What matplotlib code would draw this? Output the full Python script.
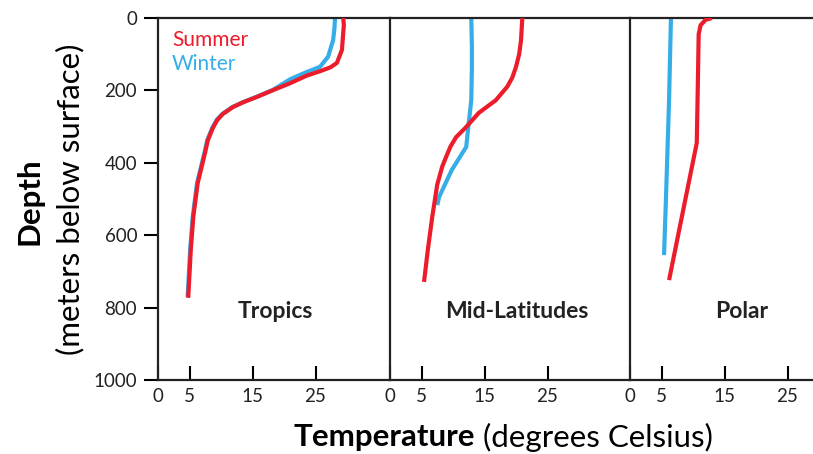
import matplotlib.pyplot as plt

# Temperature profiles (deg C) vs depth (m)
trop_summer_t = [29.4, 29.5, 29.4, 29.2, 28.4, 27.4, 26.2, 23.5, 21.0, 18.3, 15.7, 13.5, 11.9, 10.3, 9.4, 8.7, 7.9, 7.5, 6.3, 5.6, 5.2, 4.8]
trop_summer_d = [0, 20, 41, 88, 124, 136, 144, 160, 180, 199, 218, 233, 246, 265, 282, 304, 338, 370, 456, 550, 641, 773]
trop_winter_t = [28.1, 28.0, 27.8, 27.0, 25.7, 23.5, 21.0, 18.2, 15.6, 13.4, 11.8, 10.2, 9.3, 8.6, 7.8, 7.4, 6.2, 5.5, 5.1, 4.7]
trop_winter_d = [0, 30, 61, 107, 135, 150, 169, 199, 218, 233, 246, 265, 282, 304, 338, 370, 456, 550, 641, 770]

mid_summer_t = [21.0, 20.8, 20.5, 20.0, 19.4, 18.6, 16.8, 14.1, 12.1, 10.5, 9.6, 8.9, 8.3, 7.5, 6.7, 6.0, 5.4]
mid_summer_d = [0, 61, 100, 135, 165, 190, 227, 262, 301, 329, 355, 384, 410, 460, 550, 641, 729]
mid_winter_t = [12.9, 13.0, 13.0, 12.9, 12.5, 12.1, 9.8, 7.8, 7.5]
mid_winter_d = [0, 80, 135, 227, 290, 356, 420, 494, 517]

pol_summer_t = [13.0, 12.0, 11.2, 10.9, 10.8, 10.6, 6.2]
pol_summer_d = [0, 5, 20, 45, 150, 345, 724]
pol_winter_t = [6.5, 6.2, 5.7, 5.4]
pol_winter_d = [0, 227, 503, 655]

panel_names = ['Tropics', 'Mid-Latitudes', 'Polar']
x_ticks = [0, 5, 15, 25]
y_ticks = [0, 200, 400, 600, 800, 1000]

red = '#ec1c2b'
blue = '#35aee8'
ink = '#222222'

W, H = 813, 454
fig = plt.figure(figsize=(W / 100, H / 100), dpi=100)
plt.rcParams['font.family'] = ['Lato', 'DejaVu Sans']

px_per_unit = 6.3
top, bottom = 18, 380
# left and right edge of each panel in pixels
edges = [(158, 390), (390, 630), (630, 813)]
profiles = [
    (trop_summer_t, trop_summer_d, trop_winter_t, trop_winter_d),
    (mid_summer_t, mid_summer_d, mid_winter_t, mid_winter_d),
    (pol_summer_t, pol_summer_d, pol_winter_t, pol_winter_d),
]
label_x = [18.6, 20.2, 17.8]

axes = []
for i, ((x0, x1), prof) in enumerate(zip(edges, profiles)):
    ax = fig.add_axes([x0 / W, 1 - bottom / H, (x1 - x0) / W, (bottom - top) / H])
    st, sd, wt, wd = prof
    ax.plot(wt, wd, color=blue, lw=3, solid_capstyle='butt', solid_joinstyle='round', zorder=2)
    ax.plot(st, sd, color=red, lw=3, solid_capstyle='butt', solid_joinstyle='round', zorder=3)
    ax.set_xlim(0, (x1 - x0) / px_per_unit)
    ax.set_ylim(1000, 0)
    ax.spines['right'].set_visible(False)
    for s in ['left', 'top', 'bottom']:
        ax.spines[s].set_linewidth(1.6)
        ax.spines[s].set_color('#222222')
    ax.set_xticks(x_ticks)
    ax.tick_params(axis='x', direction='in', length=10, width=1.5, labelsize=13.5,
                   labelcolor=ink, pad=6)
    if i == 0:
        ax.set_yticks(y_ticks)
        ax.tick_params(axis='y', direction='out', length=10, width=1.5, labelsize=13.5,
                       labelcolor=ink, pad=5)
    else:
        ax.set_yticks([])
    ax.text(label_x[i], 812, panel_names[i], ha='center', va='center',
            fontsize=16.5, fontweight='bold', color=ink)
    axes.append(ax)

axes[0].text(2.2, 61, 'Summer', color=red, fontsize=15, va='center')
axes[0].text(2.2, 127, 'Winter', color=blue, fontsize=15, va='center')

# axis titles
title_y = 1 - 437 / H
t1 = fig.text(293 / W, title_y, 'Temperature', fontsize=22.5, fontweight='bold',
              va='center', ha='left')
r = fig.canvas.get_renderer()
bb = t1.get_window_extent(r)
fig.text(bb.x1 / W, title_y, ' (degrees Celsius)', fontsize=22.5,
         va='center', ha='left')
fig.text(30 / W, 1 - 201 / H, 'Depth', fontsize=22.5, fontweight='bold',
         rotation=90, va='center', ha='center')
fig.text(70 / W, 1 - 199 / H, '(meters below surface)', fontsize=22.5,
         rotation=90, va='center', ha='center')

fig.savefig('out.png', dpi=100)
